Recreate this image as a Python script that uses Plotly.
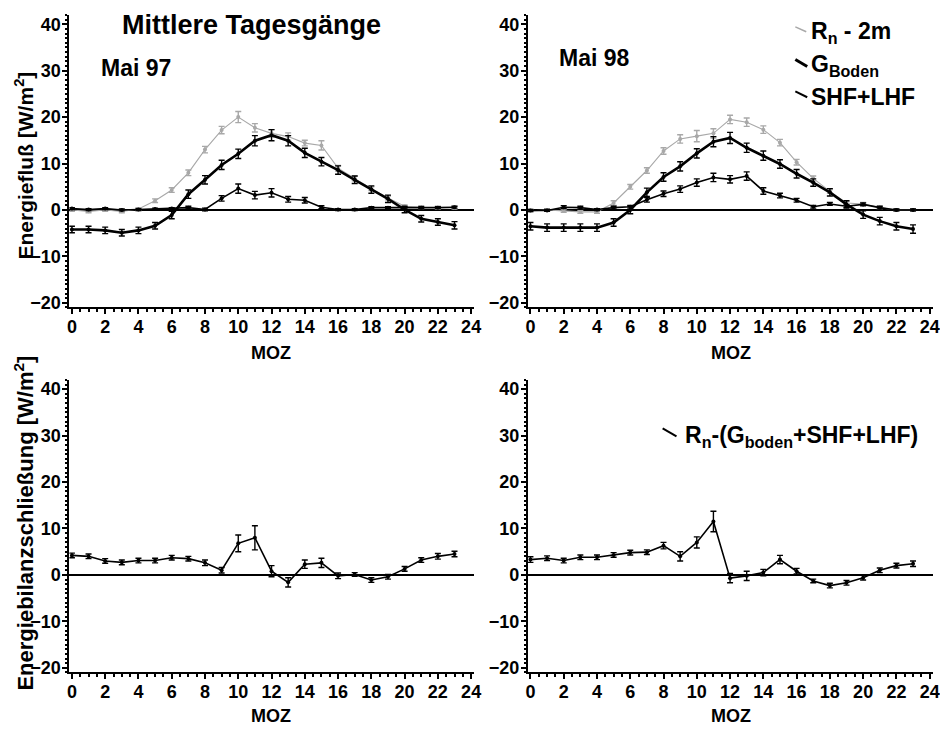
import plotly.graph_objects as go
from plotly.subplots import make_subplots

# hour of day (MOZ)
hours = list(range(24))

# Mai 97 - mean diurnal cycles [W/m2]
rn_97 = [0.0, -0.3, 0.0, -0.3, 0.2, 2.0, 4.3, 8.0, 13.0, 17.2, 20.0, 17.7,
         16.5, 15.8, 14.4, 13.9, 9.0, 6.8, 4.6, 2.6, 0.8, 0.6, 0.5, 0.5]
rn_97_err = [0.3, 0.3, 0.3, 0.3, 0.3, 0.4, 0.5, 0.6, 0.7, 0.8, 1.2, 0.9,
             0.8, 0.8, 0.6, 1.0, 0.6, 0.5, 0.4, 0.4, 0.3, 0.3, 0.3, 0.3]
g_97 = [-4.2, -4.2, -4.4, -4.9, -4.4, -3.4, -1.1, 3.4, 6.5, 9.7, 12.1, 14.9,
        16.1, 14.9, 12.3, 10.4, 8.6, 6.5, 4.4, 2.4, 0.1, -1.9, -2.6, -3.3]
g_97_err = [0.7, 0.7, 0.7, 0.7, 0.7, 0.7, 0.8, 0.9, 0.9, 1.0, 1.0, 1.1,
            1.2, 1.1, 1.0, 0.9, 0.9, 0.8, 0.8, 0.8, 0.7, 0.7, 0.7, 0.8]
shf_97 = [0.3, 0.1, 0.3, 0.0, 0.1, 0.2, 0.3, 0.5, 0.1, 2.5, 4.6, 3.2,
          3.7, 2.3, 2.1, 0.6, 0.1, 0.1, 0.5, 0.5, 0.4, 0.5, 0.5, 0.6]
shf_97_err = [0.2, 0.2, 0.2, 0.2, 0.2, 0.2, 0.2, 0.3, 0.3, 0.6, 1.0, 0.8,
              0.9, 0.6, 0.6, 0.3, 0.2, 0.2, 0.2, 0.2, 0.2, 0.2, 0.2, 0.2]

# Mai 98
rn_98 = [-0.2, 0.0, -0.2, -0.4, -0.4, 1.5, 5.0, 8.5, 12.7, 15.3, 15.9, 16.5,
         19.5, 18.9, 17.3, 14.5, 10.3, 6.8, 4.0, 1.5, 1.3, 0.5, 0.0, 0.0]
rn_98_err = [0.3, 0.3, 0.3, 0.3, 0.3, 0.5, 0.5, 0.6, 0.7, 0.9, 1.2, 1.0,
             0.9, 0.9, 0.8, 0.7, 0.6, 0.5, 0.4, 0.4, 0.3, 0.3, 0.3, 0.3]
g_98 = [-3.5, -3.8, -3.8, -3.8, -3.8, -2.7, 0.0, 3.8, 7.1, 9.4, 12.2, 14.7,
        15.5, 13.4, 11.7, 9.9, 7.8, 5.9, 3.8, 1.2, -1.0, -2.4, -3.5, -4.1]
g_98_err = [0.8, 0.8, 0.8, 0.8, 0.8, 0.8, 0.8, 0.9, 0.9, 1.0, 1.0, 1.1,
            1.2, 1.0, 1.0, 0.9, 0.9, 0.8, 0.8, 0.8, 0.8, 0.8, 0.8, 0.9]
shf_98 = [-0.1, -0.1, 0.6, 0.5, 0.1, 0.5, 0.7, 2.2, 3.5, 4.5, 5.9, 7.0,
          6.6, 7.3, 4.1, 3.1, 2.1, 0.7, 1.3, 0.8, 1.2, 0.5, 0.0, 0.0]
shf_98_err = [0.2, 0.2, 0.3, 0.3, 0.2, 0.3, 0.3, 0.5, 0.6, 0.7, 0.8, 0.9,
              0.8, 0.9, 0.7, 0.5, 0.4, 0.3, 0.3, 0.3, 0.3, 0.3, 0.2, 0.2]

# energy balance closure Rn-(G+SHF+LHF)
res_97 = [4.2, 4.0, 3.0, 2.7, 3.1, 3.1, 3.7, 3.5, 2.6, 1.0, 6.8, 8.0,
          0.8, -1.6, 2.3, 2.6, -0.2, 0.1, -1.1, -0.4, 1.3, 3.2, 4.0, 4.5]
res_97_err = [0.5, 0.5, 0.5, 0.5, 0.5, 0.5, 0.5, 0.5, 0.6, 0.6, 1.8, 2.6,
              1.2, 1.0, 0.9, 1.0, 0.6, 0.4, 0.5, 0.5, 0.5, 0.5, 0.6, 0.6]
res_98 = [3.3, 3.6, 3.1, 3.8, 3.8, 4.3, 4.8, 4.9, 6.3, 4.0, 7.0, 11.5,
          -0.7, -0.2, 0.5, 3.3, 0.8, -1.3, -2.3, -1.7, -0.6, 1.0, 2.0, 2.4]
res_98_err = [0.6, 0.5, 0.5, 0.5, 0.5, 0.5, 0.5, 0.5, 0.7, 1.0, 1.2, 2.2,
              1.0, 1.0, 0.7, 0.9, 0.6, 0.4, 0.5, 0.5, 0.5, 0.5, 0.5, 0.6]

FONT = "Liberation Sans"
GRAY = "#a8a8a8"


def series(x, y, err, color, width, row, col):
    fig.add_trace(
        go.Scatter(
            x=x, y=y,
            mode="lines+markers",
            line=dict(color=color, width=width),
            marker=dict(color=color, size=4),
            error_y=dict(type="data", array=err, color=color,
                         thickness=1.4, width=3),
            showlegend=False,
        ),
        row=row, col=col,
    )


fig = make_subplots(rows=2, cols=2)

# top row: flux components
series(hours, rn_97, rn_97_err, GRAY, 1.1, 1, 1)
series(hours, shf_97, shf_97_err, "black", 1.6, 1, 1)
series(hours, g_97, g_97_err, "black", 2.6, 1, 1)
series(hours, rn_98, rn_98_err, GRAY, 1.1, 1, 2)
series(hours, shf_98, shf_98_err, "black", 1.6, 1, 2)
series(hours, g_98, g_98_err, "black", 2.6, 1, 2)
# bottom row: closure
series(hours, res_97, res_97_err, "black", 1.6, 2, 1)
series(hours, res_98, res_98_err, "black", 1.6, 2, 2)

# page body has an 8px margin, so the figure is a bit smaller and shifted
OFF = 8
W, H = 948 - 2 * OFF, 738 - 2 * OFF


def px(x):
    return (x - OFF) / W


def py(y):
    return 1 - (y - OFF) / H


x_dom = [[px(68), px(477)], [px(531), px(940)]]
y_dom = [[py(310), py(15)], [py(678), py(383)]]
tick_font = dict(family=FONT, size=18, color="black", weight="bold")

for row in (1, 2):
    for col in (1, 2):
        fig.update_xaxes(
            domain=x_dom[col - 1], range=[-0.15, 24.2],
            tickmode="linear", tick0=0, dtick=2,
            ticks="outside", ticklen=5, tickwidth=1.5, tickcolor="black",
            minor=dict(ticks="outside", dtick=0.5, ticklen=3, tickcolor="black"),
            showline=True, linecolor="black", linewidth=2,
            showgrid=False, zeroline=False,
            tickfont=tick_font, ticklabelstandoff=-3,
            ticklabeloverflow="allow",
            row=row, col=col,
        )
        fig.update_yaxes(
            domain=y_dom[row - 1], range=[-21, 42],
            tickmode="linear", tick0=0, dtick=10,
            ticks="outside", ticklen=5, tickwidth=1.5, tickcolor="black",
            minor=dict(ticks="outside", dtick=1, ticklen=2, tickcolor="black"),
            showline=True, linecolor="black", linewidth=2,
            showgrid=False, zeroline=True, zerolinecolor="black", zerolinewidth=1.5,
            tickfont=tick_font, ticklabelstandoff=-2,
            row=row, col=col,
        )

# (text, x, y, size, anchor) in pixels of the page
labels = [
    ("Mittlere Tagesgänge", 252, 25, 27, "center"),
    ("Mai 97", 98, 69, 23, "left"),
    ("Mai 98", 560, 58, 23, "left"),
    ("R<sub>n</sub> - 2m", 815, 33, 23, "left"),
    ("G<sub>Boden</sub>", 815, 66, 23, "left"),
    ("SHF+LHF", 815, 98, 23, "left"),
    ("R<sub>n</sub>-(G<sub>boden</sub>+SHF+LHF)", 688, 440, 23, "left"),
    ("MOZ", 272, 356, 18, "center"),
    ("MOZ", 736, 356, 18, "center"),
    ("MOZ", 272, 722, 18, "center"),
    ("MOZ", 736, 722, 18, "center"),
]
layout_ann = [
    dict(text=t, x=px(x), y=py(y), xref="paper", yref="paper",
         showarrow=False, xanchor=a, yanchor="middle",
         font=dict(family=FONT, size=s, color="black", weight="bold"))
    for t, x, y, s, a in labels
]
layout_ann += [
    dict(text="Energiefluß [W/m<sup>2</sup>]", x=px(22), y=py(167),
         xref="paper", yref="paper", showarrow=False, textangle=-90,
         xanchor="center", yanchor="middle",
         font=dict(family=FONT, size=21, color="black", weight="bold")),
    dict(text="Energiebilanzschließung [W/m<sup>2</sup>]", x=px(22), y=py(527),
         xref="paper", yref="paper", showarrow=False, textangle=-90,
         xanchor="center", yanchor="middle",
         font=dict(family=FONT, size=22, color="black", weight="bold")),
]

# small slanted line keys in front of the legend texts
keys = [
    (801, 27, 812, 32, GRAY, 1.5),
    (801, 60, 813, 67, "black", 3),
    (801, 92, 813, 98, "black", 2),
    (667, 432, 681, 440, "black", 2),
]
shapes = [
    dict(type="line", xref="paper", yref="paper",
         x0=px(x0), y0=py(y0), x1=px(x1), y1=py(y1),
         line=dict(color=c, width=w))
    for x0, y0, x1, y1, c, w in keys
]

fig.update_layout(
    width=W, height=H,
    margin=dict(l=0, r=0, t=0, b=0),
    paper_bgcolor="white", plot_bgcolor="white",
    font=dict(family=FONT, color="black"),
    annotations=layout_ann,
    shapes=shapes,
    showlegend=False,
)

fig.write_html("out.html")
